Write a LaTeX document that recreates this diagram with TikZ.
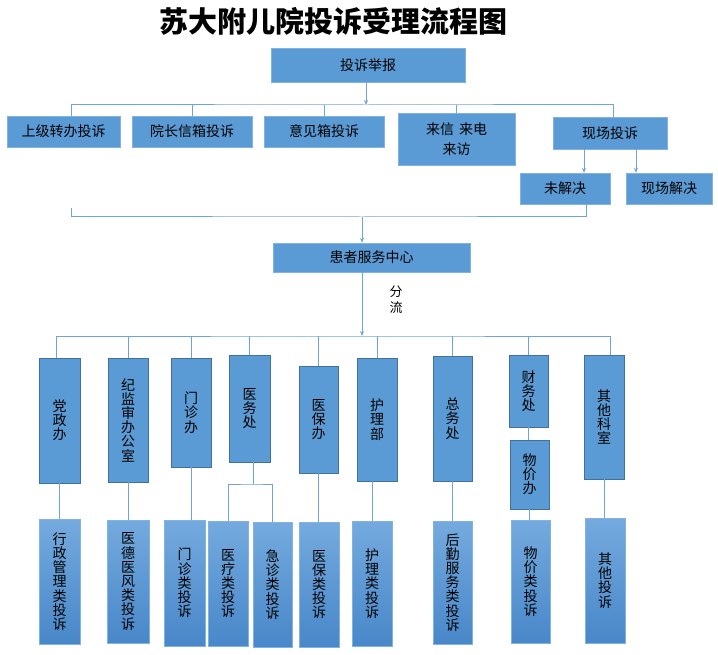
\documentclass[tikz,border=0pt]{standalone}
\usepackage{fontspec}
\newfontfamily\cjk{Noto Sans CJK SC}
\usepackage{xcolor}
\definecolor{boxblue}{RGB}{91,155,213}
\definecolor{edgeblue}{RGB}{65,113,156}
\definecolor{paleblue}{RGB}{130,178,224}
\definecolor{lineblue}{RGB}{112,163,216}
\definecolor{shadetop}{RGB}{116,170,222}
\definecolor{shadebot}{RGB}{72,135,201}
\usetikzlibrary{arrows.meta, positioning, calc}

\begin{document}
\begin{tikzpicture}[x=1pt, y=-1pt, >={Stealth[length=5pt,width=4pt]},
    flatbox/.style={draw=paleblue, fill=boxblue, inner sep=0pt, align=center,
        font=\cjk\fontsize{14}{20}\selectfont},
    deptbox/.style={draw=edgeblue, fill=boxblue, inner sep=0pt, align=center,
        font=\cjk\fontsize{14}{14.2}\selectfont},
    leafbox/.style={draw=paleblue, top color=shadetop, bottom color=shadebot,
        inner sep=0pt, align=center, font=\cjk\fontsize{14}{14.2}\selectfont},
    link/.style={draw=lineblue, line width=1pt}]
    \useasboundingbox (0,0) rectangle (718,655);

    % title and first level
    \node[font=\cjk\bfseries\fontsize{29}{32}\selectfont] (title) at (333,21) {苏大附儿院投诉受理流程图};
    \node[flatbox, minimum width=194pt, minimum height=34pt] (jubao) at (368,65) {投诉举报};

    % complaint channels
    \node[flatbox, minimum width=113pt, minimum height=31pt] (shangji) at (63.5,131.5) {上级转办投诉};
    \node[flatbox, minimum width=120pt, minimum height=31pt] (xinxiang) at (192,131.5) {院长信箱投诉};
    \node[flatbox, minimum width=120pt, minimum height=31pt] (yijian) at (324,131.5) {意见箱投诉};
    \node[flatbox, minimum width=117pt, minimum height=52pt] (laixin) at (456.5,139) {来信\hspace{5pt}来电\\来访};
    \node[flatbox, minimum width=114pt, minimum height=32pt] (xianchang) at (610,133) {现场投诉};
    \node[flatbox, minimum width=90pt, minimum height=31pt] (weijie) at (565,188.5) {未解决};
    \node[flatbox, minimum width=86pt, minimum height=31pt] (jiejue) at (669,188.5) {现场解决};

    \node[flatbox, minimum width=197pt, minimum height=29pt] (zhongxin) at (371.5,257.5) {患者服务中心};
    \node[font=\cjk\fontsize{13}{16}\selectfont, align=center] (fenliu) at (396,300) {分\\流};

    % departments
    \node[deptbox, minimum width=41pt, minimum height=125pt] (dangzheng) at (59.5,420.5) {党\\政\\办};
    \node[deptbox, minimum width=40pt, minimum height=124pt] (jijian) at (128,420) {纪\\监\\审\\办\\公\\室};
    \node[deptbox, minimum width=40pt, minimum height=109pt] (menzhen) at (191,412.5) {门\\诊\\办};
    \node[deptbox, minimum width=41pt, minimum height=107pt] (yiwu) at (249.5,408.5) {医\\务\\处};
    \node[deptbox, minimum width=39pt, minimum height=107pt] (yibao) at (318.5,419.5) {医\\保\\办};
    \node[deptbox, minimum width=40pt, minimum height=123pt] (huli) at (377,419.5) {护\\理\\部};
    \node[deptbox, minimum width=39pt, minimum height=125pt] (zongwu) at (452.5,418.5) {总\\务\\处};
    \node[deptbox, minimum width=39pt, minimum height=72pt] (caiwu) at (528.5,391) {财\\务\\处};
    \node[deptbox, minimum width=39pt, minimum height=69pt] (wujia) at (529.5,474.5) {物\\价\\办};
    \node[deptbox, minimum width=40pt, minimum height=124pt] (qita) at (604,417) {其\\他\\科\\室};

    % complaint types
    \node[leafbox, minimum width=41pt, minimum height=125pt] (xingzhenglei) at (59.5,581.5) {行\\政\\管\\理\\类\\投\\诉};
    \node[leafbox, minimum width=42pt, minimum height=123pt] (yidelei) at (128,581.5) {医\\德\\医\\风\\类\\投\\诉};
    \node[leafbox, minimum width=41pt, minimum height=126pt] (menzhenlei) at (184.5,583) {门\\诊\\类\\投\\诉};
    \node[leafbox, minimum width=40pt, minimum height=125pt] (yiliaolei) at (228,583.5) {医\\疗\\类\\投\\诉};
    \node[leafbox, minimum width=39pt, minimum height=125pt] (jizhenlei) at (272.5,584.5) {急\\诊\\类\\投\\诉};
    \node[leafbox, minimum width=40pt, minimum height=125pt] (yibaolei) at (319,584.5) {医\\保\\类\\投\\诉};
    \node[leafbox, minimum width=40pt, minimum height=125pt] (hulilei) at (372,583.5) {护\\理\\类\\投\\诉};
    \node[leafbox, minimum width=39pt, minimum height=123pt] (houqinlei) at (452.5,582.5) {后\\勤\\服\\务\\类\\投\\诉};
    \node[leafbox, minimum width=39pt, minimum height=123pt] (wujialei) at (530.5,581.5) {物\\价\\类\\投\\诉};
    \node[leafbox, minimum width=40pt, minimum height=125pt] (qitalei) at (605,580.5) {其\\他\\投\\诉};

    % connectors
    \coordinate (fen1) at (366,105);
    \coordinate (huiL) at (71,208);
    \coordinate (hui) at (362,217);
    \coordinate (fen2) at (362,336);
    \coordinate (fork) at (253,484);

    \draw[link, ->] (jubao.south -| fen1) -- (fen1);
    \draw[link] ([xshift=7.5pt]shangji.north) |- (fen1) -| ([xshift=3pt]xianchang.north);
    \foreach \n in {xinxiang, yijian, laixin}
        \draw[link] (\n.north) -- (\n.north |- fen1);
    \draw[link, ->] ([xshift=-26pt]xianchang.south) -- ([xshift=-26pt]xianchang.south |- weijie.north);
    \draw[link, ->] ([xshift=26pt]xianchang.south) -- ([xshift=26pt]xianchang.south |- jiejue.north);
    \draw[link] (huiL) |- (hui) -| ([xshift=21pt]weijie.south);
    \draw[link, ->] (hui) -- (hui |- zhongxin.north);

    \draw[link, ->] (zhongxin.south -| fen2) -- (fen2);
    \draw[link] ([xshift=-3.5pt]dangzheng.north) |- (fen2) -| ([xshift=6pt]qita.north);
    \foreach \n in {jijian, menzhen, yiwu, yibao, huli, zongwu, caiwu}
        \draw[link] (\n.north) -- (\n.north |- fen2);
    \draw[link] (caiwu.south) -- (caiwu.south |- wujia.north);

    \foreach \a/\b in {dangzheng/xingzhenglei, jijian/yidelei, menzhen/menzhenlei,
        yibao/yibaolei, zongwu/houqinlei, wujia/wujialei, qita/qitalei}
        \draw[link] (\a.south) -- (\a.south |- \b.north);
    \draw[link] (huli.south -| hulilei.north) -- (hulilei.north);
    \draw[link] (yiwu.south -| fork) -- (fork);
    \draw[link] (yiliaolei.north) |- (fork) -| (jizhenlei.north);
\end{tikzpicture}
\end{document}
